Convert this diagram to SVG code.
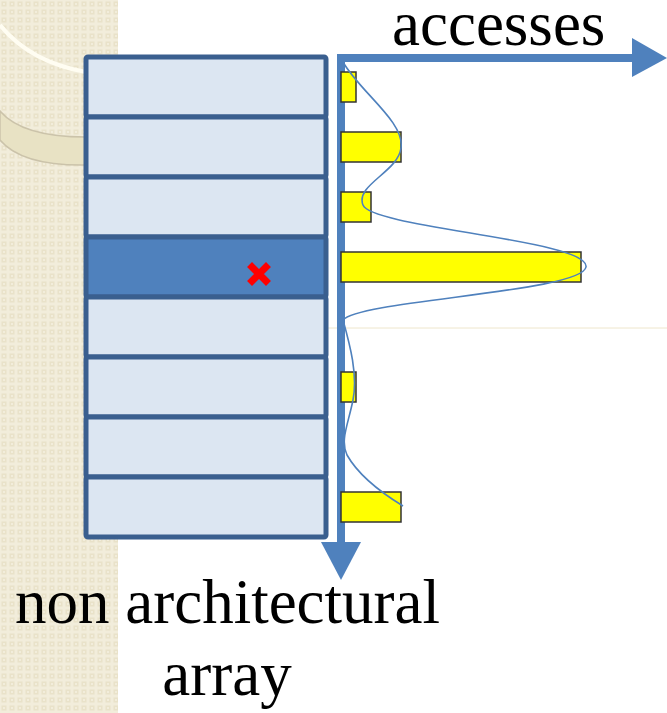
<svg xmlns="http://www.w3.org/2000/svg" width="667" height="713" viewBox="0 0 667 713">
<defs>
<pattern id="chk" x="0" y="0" width="8" height="8" patternUnits="userSpaceOnUse">
<rect width="8" height="8" fill="#f2eddb"/>
<rect x="1.5" y="1.5" width="5" height="5" fill="#e9e2c9"/>
<rect x="3" y="3" width="2" height="2" fill="#f2eddb"/>
</pattern>
<style>
.row{fill:#dce6f2;stroke:#3a5f8f;stroke-width:5;}
.hot{fill:#4f81bd;stroke:#3a5f8f;stroke-width:5;}
.bar{fill:#ffff00;stroke:#333333;stroke-width:1.5;}
.axis{stroke:#4f81bd;stroke-width:8;fill:none;}
.head{fill:#4f81bd;}
</style>
</defs>
<rect width="667" height="713" fill="#ffffff"/>
<g id="background">
<rect x="0" y="0" width="118" height="713" fill="url(#chk)"/>
<path d="M0,25 Q30,62 86,72" fill="none" stroke="#fffdf2" stroke-width="4"/>
<path d="M0,111 Q22,137 86,137 L86,165 Q22,166 0,140 Z" fill="#e8e2c4" stroke="#cbc3aa" stroke-width="1.5"/>
<line x1="327" y1="328" x2="667" y2="328" stroke="#eee6cc" stroke-width="1"/>
</g>
<g id="array">
<rect class="row" x="86" y="57" width="240" height="60" rx="2"/>
<rect class="row" x="86" y="117" width="240" height="60" rx="2"/>
<rect class="row" x="86" y="177" width="240" height="60" rx="2"/>
<rect class="hot" x="86" y="237" width="240" height="60" rx="2"/>
<rect class="row" x="86" y="297" width="240" height="60" rx="2"/>
<rect class="row" x="86" y="357" width="240" height="60" rx="2"/>
<rect class="row" x="86" y="417" width="240" height="60" rx="2"/>
<rect class="row" x="86" y="477" width="240" height="60" rx="2"/>
</g>
<g id="miss">
<path d="M252,267 L266,281 M266,267 L252,281" stroke="#ff0000" stroke-width="7" stroke-linecap="square"/>
</g>
<g id="connectors">
<line class="axis" x1="341" y1="56" x2="341" y2="546"/>
<polygon class="head" points="321,542 361,542 341,580"/>
<line class="axis" x1="337" y1="58" x2="634" y2="58"/>
<polygon class="head" points="632,38 667,58 632,77"/>
</g>
<g id="bars">
<rect class="bar" x="341" y="72" width="15" height="30"/>
<rect class="bar" x="341" y="132" width="60" height="30"/>
<rect class="bar" x="341" y="192" width="30" height="30"/>
<rect class="bar" x="341" y="252" width="240" height="30"/>
<rect class="bar" x="341" y="372" width="15" height="30"/>
<rect class="bar" x="341" y="492" width="60" height="30"/>
</g>
<g id="curve">
<path d="M343,62 C360,92 405,122 401,148 C398,172 355,185 363,205 C372,228 590,240 586,267 C582,292 360,300 343,320 C350,345 358,375 353,400 C348,425 340,440 347,455 C360,478 385,495 403,506" fill="none" stroke="#4f81bd" stroke-width="1.6"/>
</g>
<g id="labels" font-family="'Liberation Serif', 'Times New Roman', 'DejaVu Serif', serif" font-size="63" fill="#000000">
<text x="392" y="45">accesses</text>
<text x="15" y="623">non architectural</text>
<text x="227" y="695" text-anchor="middle">array</text>
</g>
</svg>
